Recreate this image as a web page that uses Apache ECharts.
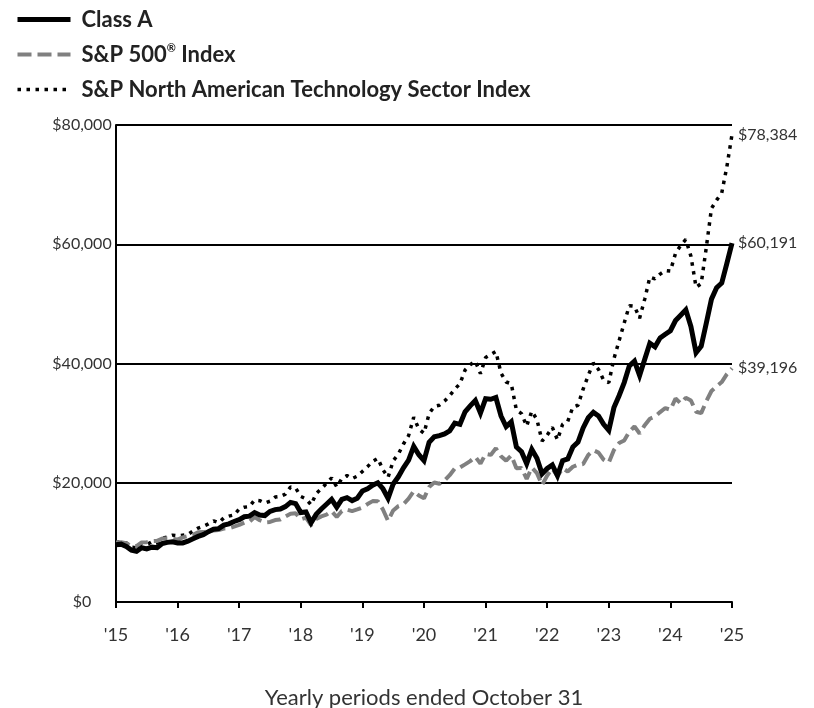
<!DOCTYPE html>
<html>
<head>
<meta charset="utf-8">
<title>Growth of $10,000</title>
<script src="https://cdn.jsdelivr.net/npm/echarts@6/dist/echarts.min.js"></script>
<style>
  html, body { margin: 0; padding: 0; background: #fff; }
  #chart { width: 814px; height: 708px; }
</style>
</head>
<body>
<div id="chart"></div>
<script>
// monthly values, Oct 2015 .. Oct 2025
const yearTicks = ["'15", "'16", "'17", "'18", "'19", "'20", "'21", "'22", "'23", "'24", "'25"]

const classA = [
  9600, 9700, 9300, 8700, 8500, 9100, 8900, 9200, 9100, 9800, 10000, 10100,
  9900, 9900, 10200, 10600, 11000, 11300, 11800, 12200, 12300, 12900, 13100, 13500,
  13800, 14300, 14400, 15000, 14600, 14500, 15200, 15500, 15600, 16000, 16700, 16500,
  15000, 15100, 13300, 14700, 15600, 16400, 17200, 15900, 17200, 17500, 17000, 17400,
  18600, 19000, 19600, 20000, 19000, 17400, 19800, 21000, 22500, 23800, 26100, 24700,
  23700, 26800, 27700, 27900, 28200, 28700, 30000, 29800, 31900, 32900, 33800, 31700,
  34100, 34000, 34300, 31200, 29400, 30200, 26000, 25200, 23200, 25600, 24100, 21500,
  22400, 23000, 21200, 23700, 24000, 26000, 26800, 29200, 30900, 31800, 31200, 29800,
  28800, 32600, 34600, 36800, 39600, 40400, 38000, 40700, 43400, 42800, 44300, 44900,
  45500, 47200, 48100, 49000, 46200, 41800, 42900, 46800, 50800, 52700, 53500, 56800,
  60191
]

const sp500 = [
  10000, 10030, 9870, 9380, 9370, 10000, 10040, 10220, 10250, 10630, 10640, 10640,
  10450, 10840, 11050, 11260, 11710, 11720, 11840, 12010, 12080, 12330, 12370, 12630,
  12920, 13320, 13470, 14240, 13710, 13370, 13420, 13740, 13830, 14340, 14810, 14890,
  13870, 14150, 12880, 13910, 14360, 14640, 15230, 14260, 15260, 15480, 15230, 15520,
  15850, 16430, 16920, 16910, 15520, 13600, 15350, 16080, 16400, 17320, 18570, 17860,
  17390, 19290, 20030, 19830, 20370, 21270, 22400, 22550, 23080, 23630, 24350, 23210,
  24840, 24670, 25770, 24440, 23710, 24590, 22440, 22480, 20630, 22530, 21610, 19620,
  21210, 22390, 21100, 22430, 21880, 22680, 23040, 23140, 24670, 25460, 25060, 23860,
  23360, 25490, 26650, 27100, 28540, 29460, 28260, 29660, 30730, 31100, 31850, 32530,
  32240, 34130, 33310, 34250, 33800, 31900, 31680, 33670, 35390, 36160, 36890, 38220,
  39196
]

const techIndex = [
  10000, 10100, 9900, 9200, 9100, 9900, 9600, 10100, 9900, 10700, 10900, 11200,
  11100, 11200, 11300, 11900, 12400, 12700, 13100, 13600, 13300, 14100, 14400, 14600,
  15600, 15900, 16000, 17100, 17000, 16600, 16900, 17600, 17700, 18100, 19300, 19100,
  17700, 17300, 16300, 18200, 19000, 19900, 20800, 19300, 20700, 21200, 20700, 21100,
  21900, 22700, 23600, 24100, 22200, 20900, 23700, 24800, 26500, 27900, 31000, 29000,
  28300, 31600, 32800, 33000, 33700, 34600, 35700, 36600, 38900, 39800, 40400, 38300,
  41000, 41500, 42000, 38400, 36900, 36600, 32200, 31600, 29500, 32000, 30600, 27000,
  28000, 29300, 27200, 29800, 30300, 32700, 33000, 35700, 38000, 40100, 39000, 37200,
  36800, 40800, 43800, 46800, 49700, 49600, 47600, 50800, 54500, 54200, 55000, 55600,
  55500, 58500, 59800, 60800, 58000, 52800, 53400, 59500, 66000, 67400, 68600, 73000,
  78384
]

const seriesNames = ['Class A', 'S&P 500 Index', 'S&P North American Technology Sector Index']

const months = []
for (let i = 0; i < classA.length; i++) {
  const m = (9 + i) % 12
  const y = 2015 + Math.floor((9 + i) / 12)
  months.push(y + '-' + String(m + 1).padStart(2, '0'))
}

const FONT = 'Lato, "Open Sans", sans-serif'
const money = v => '$' + v.toLocaleString('en-US')
const isYearTick = idx => idx % 12 === 0

const chart = echarts.init(document.getElementById('chart'))

const endLabel = {
  show: true,
  formatter: p => money(p.value),
  distance: 6,
  color: '#333',
  fontFamily: FONT,
  fontSize: 16
}

chart.setOption({
  animation: false,
  textStyle: { fontFamily: FONT },
  legend: {
    orient: 'vertical',
    left: 10,
    top: 2,
    itemWidth: 53,
    itemHeight: 14,
    itemGap: 10,
    selectedMode: false,
    itemStyle: { opacity: 0 },
    data: [
      { name: seriesNames[0], lineStyle: { width: 5, color: '#000', type: 'solid' } },
      { name: seriesNames[1], lineStyle: { width: 4, color: '#808080', type: [14, 6] } },
      { name: seriesNames[2], lineStyle: { width: 3.5, color: '#000', type: [3.5, 5.5] } }
    ],
    formatter: name => name === seriesNames[1] ? 'S&P 500{sup|®} Index' : name,
    textStyle: {
      fontFamily: FONT,
      fontSize: 22,
      lineHeight: 25,
      fontWeight: 'bold',
      color: '#222',
      padding: [0, 0, 0, 6],
      rich: {
        sup: { fontSize: 11, fontWeight: 'bold', color: '#222', padding: [0, 0, 12, 0] }
      }
    }
  },
  grid: { left: 116, right: 82, top: 125, bottom: 106, outerBoundsMode: 'none' },
  xAxis: {
    type: 'category',
    data: months,
    boundaryGap: false,
    name: 'Yearly periods ended October 31',
    nameLocation: 'middle',
    nameGap: 85,
    nameTextStyle: { fontFamily: FONT, fontSize: 22, color: '#333' },
    axisLine: { lineStyle: { color: '#000', width: 2 } },
    axisTick: { interval: isYearTick, length: 6, lineStyle: { color: '#000', width: 2 } },
    axisLabel: {
      interval: isYearTick,
      formatter: (v, idx) => yearTicks[idx / 12],
      margin: 24,
      fontFamily: FONT,
      fontSize: 18,
      color: '#333'
    },
    splitLine: { show: false }
  },
  yAxis: {
    type: 'value',
    min: 0,
    max: 80000,
    interval: 20000,
    axisLine: { show: true, lineStyle: { color: '#000', width: 2 } },
    axisTick: { show: false },
    axisLabel: {
      formatter: v => money(v),
      align: 'center',
      margin: 34,
      fontFamily: FONT,
      fontSize: 16,
      color: '#333'
    },
    splitLine: { show: true, lineStyle: { color: '#000', width: 2 } }
  },
  series: [
    {
      name: seriesNames[2],
      type: 'line',
      data: techIndex,
      symbol: 'none',
      z: 3,
      lineStyle: { color: '#000', width: 3.5, type: [3.5, 5.5] },
      itemStyle: { color: '#000' },
      endLabel
    },
    {
      name: seriesNames[1],
      type: 'line',
      data: sp500,
      symbol: 'none',
      z: 4,
      lineStyle: { color: '#808080', width: 4, type: [14, 6] },
      itemStyle: { color: '#808080' },
      endLabel
    },
    {
      name: seriesNames[0],
      type: 'line',
      data: classA,
      symbol: 'none',
      z: 5,
      lineStyle: { color: '#000', width: 5, join: 'miter' },
      itemStyle: { color: '#000' },
      endLabel
    }
  ]
})
</script>
</body>
</html>
